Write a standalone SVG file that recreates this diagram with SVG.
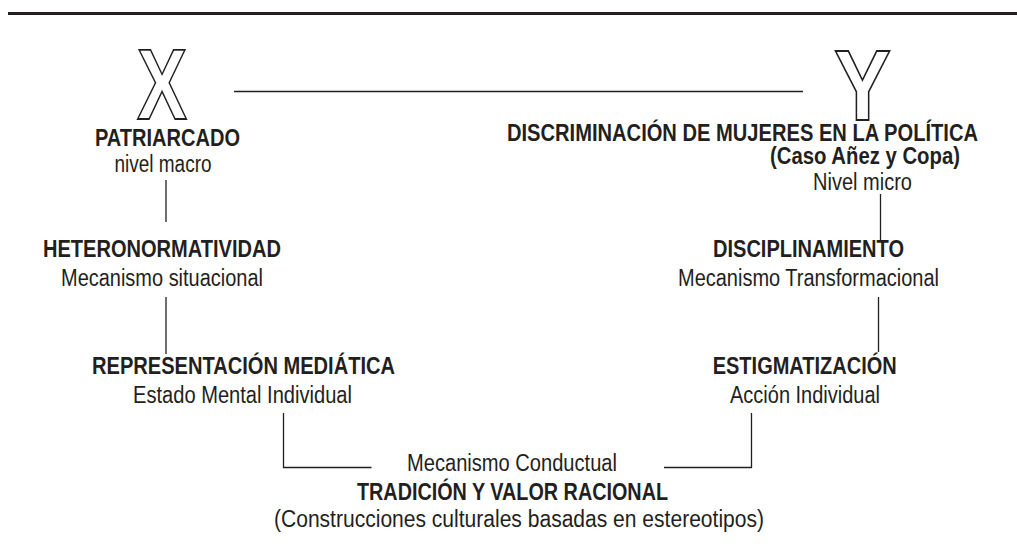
<svg xmlns="http://www.w3.org/2000/svg" width="1017" height="555" viewBox="0 0 1017 555">
<style>
text{font-family:"Liberation Sans",Arial,sans-serif;fill:#231f20;font-size:23.5px;text-anchor:middle}
.b{font-weight:bold}
.big{font-size:100px;font-weight:bold;fill:#fff;stroke:#231f20;stroke-width:1.8;text-anchor:start}
.c line,.c polyline{stroke:#231f20;stroke-width:1.3;fill:none}
</style>
<rect x="8" y="12" width="1009" height="3" fill="#231f20"/>
<g class="c" id="connectors">
<line x1="234" y1="91.5" x2="803" y2="91.5"/>
<line x1="166" y1="180" x2="166" y2="222"/>
<line x1="166" y1="297" x2="166" y2="354"/>
<polyline points="283.5,413 283.5,467.5 371.5,467.5"/>
<line x1="880.5" y1="194" x2="880.5" y2="240"/>
<line x1="878.5" y1="297" x2="878.5" y2="352"/>
<polyline points="751.5,413 751.5,467.5 664,467.5"/>
</g>
<g id="x"><text class="big" x="137" y="119" textLength="50" lengthAdjust="spacingAndGlyphs">X</text></g>
<g id="y"><text class="big" x="834" y="120" textLength="57" lengthAdjust="spacingAndGlyphs">Y</text></g>
<g id="patriarcado">
<text class="b" x="167.5" y="146" textLength="145" lengthAdjust="spacingAndGlyphs">PATRIARCADO</text>
<text x="163" y="172" textLength="97" lengthAdjust="spacingAndGlyphs">nivel macro</text>
</g>
<g id="heteronormatividad">
<text class="b" x="162" y="257" textLength="238" lengthAdjust="spacingAndGlyphs">HETERONORMATIVIDAD</text>
<text x="162" y="286" textLength="202" lengthAdjust="spacingAndGlyphs">Mecanismo situacional</text>
</g>
<g id="representacion">
<text class="b" x="243.5" y="374" textLength="303" lengthAdjust="spacingAndGlyphs">REPRESENTACIÓN MEDIÁTICA</text>
<text x="242.5" y="403" textLength="219" lengthAdjust="spacingAndGlyphs">Estado Mental Individual</text>
</g>
<g id="discriminacion">
<text class="b" x="742.5" y="141" textLength="471" lengthAdjust="spacingAndGlyphs">DISCRIMINACIÓN DE MUJERES EN LA POLÍTICA</text>
<text class="b" x="865" y="164" textLength="190" lengthAdjust="spacingAndGlyphs">(Caso Añez y Copa)</text>
<text x="862.5" y="190" textLength="99" lengthAdjust="spacingAndGlyphs">Nivel micro</text>
</g>
<g id="disciplinamiento">
<text class="b" x="808.5" y="257" textLength="191" lengthAdjust="spacingAndGlyphs">DISCIPLINAMIENTO</text>
<text x="808.5" y="286" textLength="261" lengthAdjust="spacingAndGlyphs">Mecanismo Transformacional</text>
</g>
<g id="estigmatizacion">
<text class="b" x="804.7" y="374" textLength="184" lengthAdjust="spacingAndGlyphs">ESTIGMATIZACIÓN</text>
<text x="805" y="403" textLength="150" lengthAdjust="spacingAndGlyphs">Acción Individual</text>
</g>
<g id="tradicion">
<text x="512" y="471" textLength="210" lengthAdjust="spacingAndGlyphs">Mecanismo Conductual</text>
<text class="b" x="512.5" y="500" textLength="311" lengthAdjust="spacingAndGlyphs">TRADICIÓN Y VALOR RACIONAL</text>
<text x="519" y="527" textLength="490" lengthAdjust="spacingAndGlyphs">(Construcciones culturales basadas en estereotipos)</text>
</g>
</svg>
